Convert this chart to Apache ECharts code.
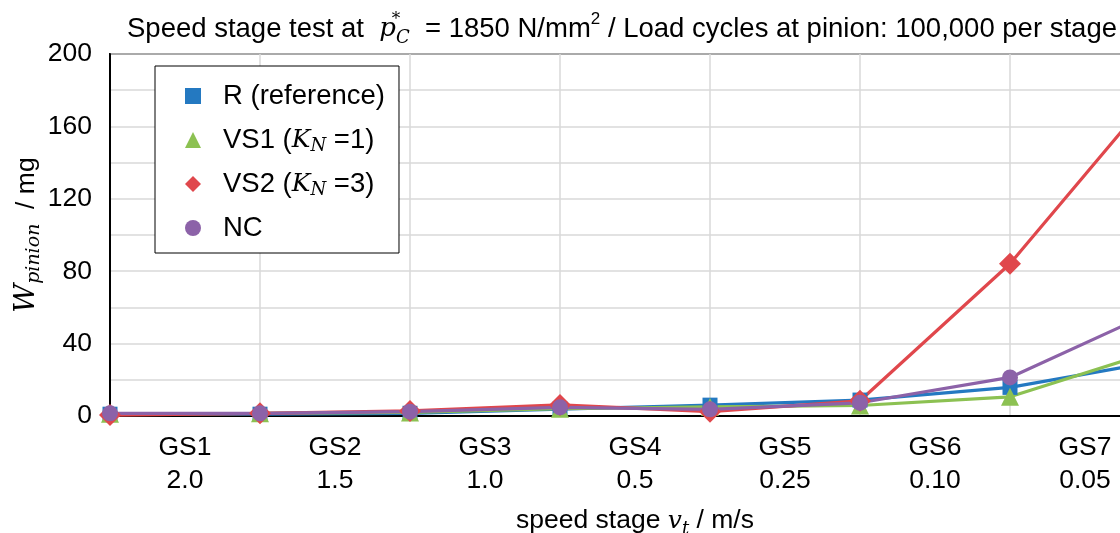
<!DOCTYPE html>
<html><head><meta charset="utf-8">
<script src="https://cdn.jsdelivr.net/npm/echarts@6/dist/echarts.min.js"></script>
<style>html,body{margin:0;padding:0;overflow:hidden;background:#fff}#c{width:1160px;height:533px}</style>
</head><body><div id="c"></div>
<script>
// ---- data ----
const stageNames = ['GS1', 'GS2', 'GS3', 'GS4', 'GS5', 'GS6', 'GS7'];
const speedLabels = ['2.0', '1.5', '1.0', '0.5', '0.25', '0.10', '0.05'];
const stagePoints = [0, 1, 2, 3, 4, 5, 6, 7];
const seriesR   = [1.0, 1.0, 1.5, 3.8, 6.0, 8.8, 15.8, 30.5];
const seriesVS1 = [1.2, 1.5, 2.0, 4.0, 5.0, 5.8, 10.6, 36.8];
const seriesVS2 = [0.5, 1.5, 2.8, 6.1, 2.4, 8.4, 84.1, 182.5];
const seriesNC  = [1.5, 1.5, 2.4, 4.8, 3.7, 7.3, 21.3, 59.2];
const yTickLabels = [0, 40, 80, 120, 160, 200];

const F = '"Liberation Sans", Arial, sans-serif';
const M = '"DejaVu Serif", serif';
const toPairs = arr => arr.map((v, i) => [stagePoints[i], v]);

const chart = echarts.init(document.getElementById('c'));
const mathRich = {
  mi: { fontFamily: M, fontStyle: 'italic', fontSize: 25, lineHeight: 30, color: '#000' },
  sub: { fontFamily: M, fontStyle: 'italic', fontSize: 18, lineHeight: 18, verticalAlign: 'bottom', color: '#000' }
};
const legendNames = {
  'R': 'R (reference)',
  'VS1': 'VS1 ({mi|K}{sub|N} =1)',
  'VS2': 'VS2 ({mi|K}{sub|N} =3)',
  'NC': 'NC'
};

chart.setOption({
  animation: false,
  backgroundColor: '#fff',
  title: {
    left: 617, top: 6, textAlign: 'center',
    text: 'Speed stage test at  {mi|p}{sup|*}{sub|C}  = 1850 N/mm{sup2|2} / Load cycles at pinion: 100,000 per stage',
    textStyle: {
      fontFamily: F, fontSize: 27.5, fontWeight: 'normal', color: '#000', lineHeight: 36,
      rich: {
        mi: { fontFamily: M, fontStyle: 'italic', fontSize: 26, lineHeight: 36, color: '#000' },
        sup: { fontFamily: M, fontSize: 17, lineHeight: 17, verticalAlign: 'top', width: 0, color: '#000' },
        sub: { fontFamily: M, fontStyle: 'italic', fontSize: 18, lineHeight: 18, verticalAlign: 'bottom', color: '#000' },
        sup2: { fontFamily: F, fontSize: 17, lineHeight: 24, verticalAlign: 'top', color: '#000' }
      }
    }
  },
  legend: {
    orient: 'vertical', left: 155, top: 66,
    backgroundColor: '#fff', borderColor: '#000', borderWidth: 1,
    padding: [15, 14, 10, 13], itemGap: 14,
    itemWidth: 50, itemHeight: 20,
    lineStyle: { width: 0, opacity: 0 },
    data: ['R', 'VS1', 'VS2', 'NC'],
    formatter: name => legendNames[name],
    textStyle: { fontFamily: F, fontSize: 27.5, color: '#000', lineHeight: 30, rich: mathRich }
  },
  grid: { left: 110, right: 0, top: 54, bottom: 117, outerBoundsMode: 'none', containLabel: false,
          show: true, borderColor: '#222', borderWidth: 2, backgroundColor: '#fff' },
  xAxis: [{
    type: 'value', min: 0, max: 7, interval: 0.5,
    name: 'speed stage {mi|v}{sub|t} / m/s', nameLocation: 'middle', nameGap: 88,
    nameTextStyle: { fontFamily: F, fontSize: 26.5, color: '#000', lineHeight: 34,
      rich: { mi: { fontFamily: M, fontStyle: 'italic', fontSize: 25, lineHeight: 34, color: '#000' },
              sub: { fontFamily: M, fontStyle: 'italic', fontSize: 18, lineHeight: 18, verticalAlign: 'bottom', color: '#000' } } },
    axisLine: { lineStyle: { color: '#000', width: 2 } },
    axisTick: { show: false },
    splitLine: { show: false },
    axisLabel: {
      fontFamily: F, fontSize: 26.5, color: '#000', lineHeight: 33, margin: 15,
      formatter: v => {
        const k = Math.floor(v);
        if (Math.abs(v - k - 0.5) < 1e-6 && k < stageNames.length) return stageNames[k] + '\n' + speedLabels[k];
        return '';
      }
    }
  }, {
    type: 'value', min: 0, max: 7, interval: 1, position: 'bottom',
    axisLine: { show: false }, axisTick: { show: false }, axisLabel: { show: false },
    splitLine: { show: true, lineStyle: { color: '#d9d9d9', width: 1.5 } }
  }],
  yAxis: {
    type: 'value', min: 0, max: 200, interval: 20,
    name: '{mi|W}{sub|pinion}  / mg', nameLocation: 'middle', nameGap: 66, nameMoveOverlap: false,
    nameTextStyle: { fontFamily: F, fontSize: 26.5, color: '#000', lineHeight: 34,
      rich: { mi: { fontFamily: M, fontStyle: 'italic', fontSize: 28, lineHeight: 34, color: '#000' },
              sub: { fontFamily: M, fontStyle: 'italic', fontSize: 19, lineHeight: 20, verticalAlign: 'bottom', color: '#000' } } },
    axisLine: { show: true, lineStyle: { color: '#000', width: 2 } },
    axisTick: { show: false },
    splitLine: { lineStyle: { color: '#d9d9d9', width: 1.5 } },
    axisLabel: { fontFamily: F, fontSize: 26.5, color: '#000', margin: 18,
      formatter: v => (yTickLabels.indexOf(v) >= 0 ? String(v) : '') }
  },
  series: [
    { name: 'R', type: 'line', data: toPairs(seriesR), symbol: 'rect', symbolSize: 15,
      itemStyle: { color: '#2479C1' }, lineStyle: { width: 3.2, color: '#2479C1' } },
    { name: 'VS1', type: 'line', data: toPairs(seriesVS1), symbol: 'triangle', symbolSize: 18,
      itemStyle: { color: '#8CC152' }, lineStyle: { width: 3.2, color: '#8CC152' } },
    { name: 'VS2', type: 'line', data: toPairs(seriesVS2), symbol: 'diamond', symbolSize: 22,
      itemStyle: { color: '#E0474C' }, lineStyle: { width: 3.2, color: '#E0474C' } },
    { name: 'NC', type: 'line', data: toPairs(seriesNC), symbol: 'circle', symbolSize: 16,
      itemStyle: { color: '#8C62A8' }, lineStyle: { width: 3.2, color: '#8C62A8' } }
  ]
});
</script></body></html>
